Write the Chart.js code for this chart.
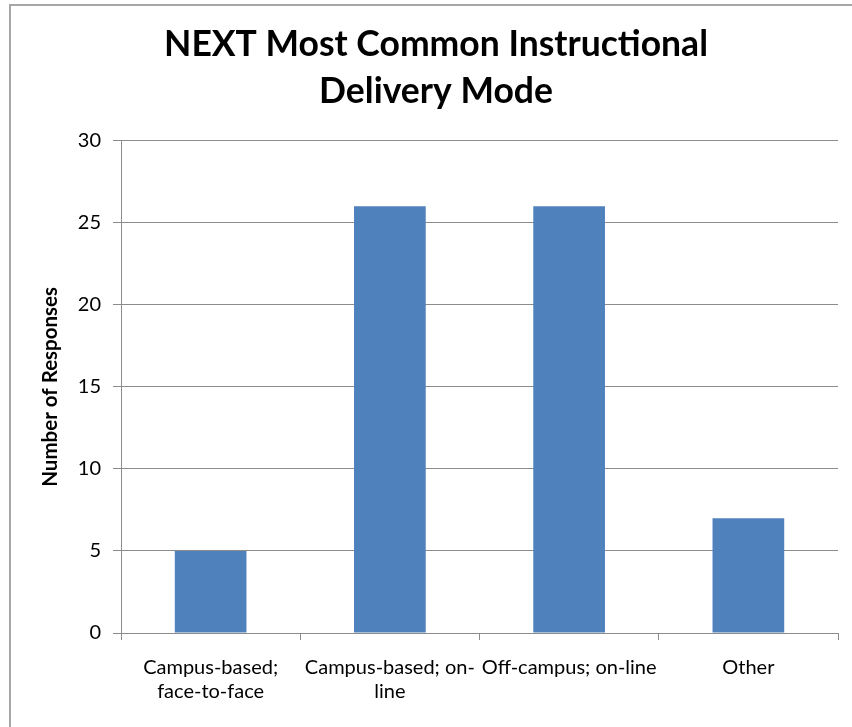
<!DOCTYPE html>
<html>
<head>
<meta charset="utf-8">
<script src="https://cdn.jsdelivr.net/npm/chart.js@4.4.1/dist/chart.umd.min.js"></script>
<style>
  html, body { margin: 0; padding: 0; background: #fff; }
  #wrap { position: relative; width: 852px; height: 727px; }
</style>
</head>
<body>
<div id="wrap"><canvas id="chart" width="852" height="727"></canvas></div>
<script>
// Delivery modes and how many respondents picked each one
const categories = [
  ['Campus-based;', 'face-to-face'],
  ['Campus-based; on-', 'line'],
  'Off-campus; on-line',
  'Other'
];
const responses = [5, 26, 26, 7];
const yTicks = [0, 5, 10, 15, 20, 25, 30];

const FONT = 'Lato, "Open Sans", sans-serif';
const GRID = '#8c8c8c';

// White page with a grey frame on the top and left edges
const framePlugin = {
  id: 'frame',
  beforeDraw(chart) {
    const ctx = chart.ctx;
    ctx.save();
    ctx.fillStyle = '#ffffff';
    ctx.fillRect(0, 0, chart.width, chart.height);
    ctx.strokeStyle = '#a6a6a6';
    ctx.lineWidth = 2;
    ctx.beginPath();
    ctx.moveTo(10, chart.height);
    ctx.lineTo(10, 5);
    ctx.lineTo(chart.width, 5);
    ctx.stroke();
    ctx.restore();
  }
};

new Chart(document.getElementById('chart'), {
  type: 'bar',
  data: {
    labels: categories,
    datasets: [{
      data: responses,
      backgroundColor: '#4f81bd',
      borderWidth: 0,
      categoryPercentage: 1,
      barPercentage: 0.4
    }]
  },
  options: {
    responsive: false,
    animation: false,
    layout: { padding: { top: 0, left: 34, right: 14, bottom: 0 } },
    plugins: {
      legend: { display: false },
      tooltip: { enabled: false },
      title: {
        display: true,
        text: ['NEXT Most Common Instructional', 'Delivery Mode'],
        color: '#000',
        font: { family: FONT, size: 35.5, weight: 'bold', lineHeight: 1.32 },
        padding: { top: 21, bottom: 26 }
      }
    },
    scales: {
      x: {
        grid: { display: true, drawOnChartArea: false, offset: true, color: GRID, tickLength: 7 },
        border: { color: GRID, width: 1 },
        ticks: { color: '#000', font: { family: FONT, size: 20, lineHeight: 1.2 }, maxRotation: 0, autoSkip: false, padding: 16 },
        afterFit(scale) { scale.height = 94; }
      },
      y: {
        min: 0,
        max: 30,
        afterBuildTicks(scale) { scale.ticks = yTicks.map(v => ({ value: v })); },
        grid: { color: GRID, tickLength: 8 },
        border: { color: GRID, width: 1 },
        ticks: { color: '#000', font: { family: FONT, size: 20 }, padding: 12 },
        title: {
          display: true,
          text: 'Number of Responses',
          color: '#000',
          font: { family: FONT, size: 20.5, weight: 'bold', lineHeight: 1.2 },
          padding: { top: 4, bottom: 0 }
        },
        afterFit(scale) { scale.width = 87; }
      }
    }
  },
  plugins: [framePlugin]
});
</script>
</body>
</html>
